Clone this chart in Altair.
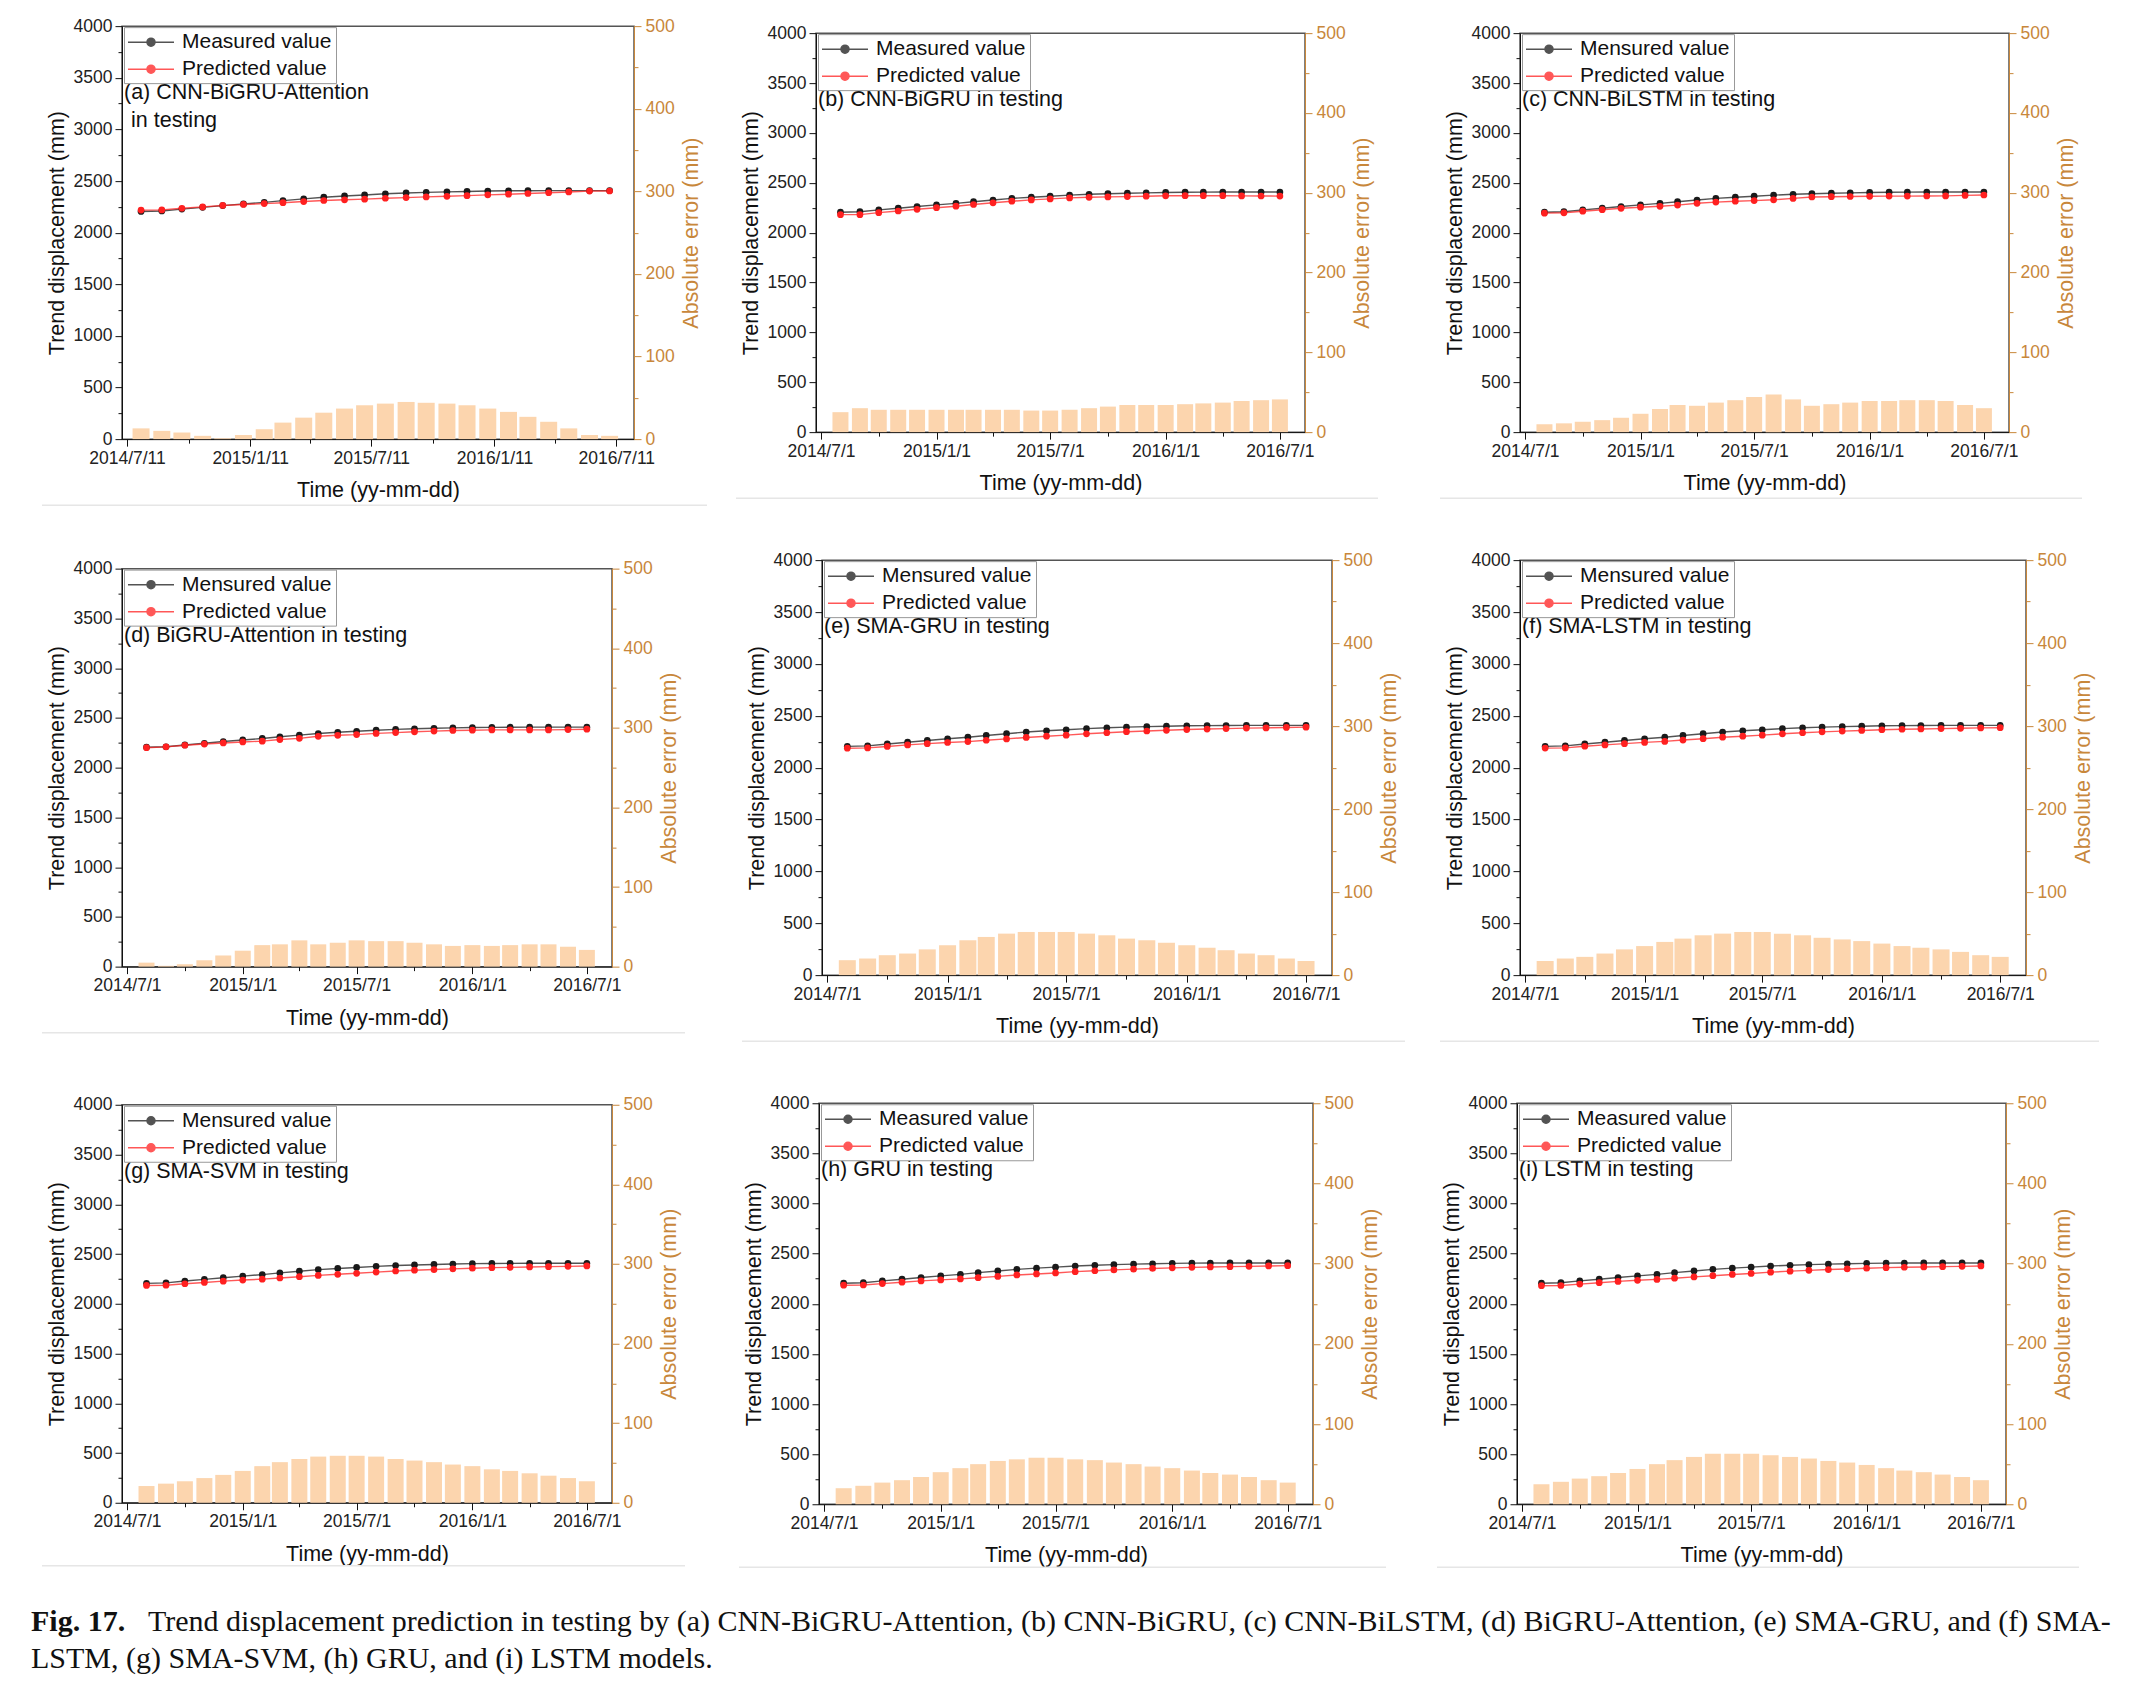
import altair as alt
import pandas as pd

FONT = "Liberation Sans"
SERIF = "Liberation Serif"
ORANGE = "#C8873B"
PEACH = "#FCD5AE"

dates = ["2014/08/01", "2014/09/01", "2014/10/01", "2014/11/01", "2014/12/01",
         "2015/01/01", "2015/02/01", "2015/03/01", "2015/04/01", "2015/05/01", "2015/06/01",
         "2015/07/01", "2015/08/01", "2015/09/01", "2015/10/01", "2015/11/01", "2015/12/01",
         "2016/01/01", "2016/02/01", "2016/03/01", "2016/04/01", "2016/05/01", "2016/06/01",
         "2016/07/01"]

measured = [2205, 2210, 2228, 2245, 2262, 2278, 2293, 2310, 2327, 2343, 2355, 2365,
            2376, 2384, 2390, 2395, 2399, 2403, 2405, 2406, 2407, 2407, 2407, 2407]

pred_a = [2218, 2220, 2236, 2249, 2263, 2273, 2281, 2290, 2301, 2311, 2318, 2324,
          2333, 2339, 2346, 2352, 2358, 2366, 2372, 2379, 2386, 2394, 2402, 2403]
pred_b = [2180, 2180, 2200, 2217, 2234, 2250, 2265, 2282, 2299, 2315, 2328, 2338,
          2348, 2354, 2358, 2361, 2365, 2369, 2370, 2370, 2370, 2368, 2367, 2366]
pred_c = [2195, 2199, 2215, 2230, 2244, 2255, 2264, 2276, 2294, 2306, 2315, 2321,
          2329, 2343, 2357, 2360, 2362, 2364, 2366, 2366, 2367, 2368, 2373, 2377]
pred_d = [2200, 2209, 2225, 2237, 2248, 2258, 2266, 2282, 2294, 2315, 2325, 2332,
          2344, 2352, 2360, 2367, 2373, 2376, 2379, 2379, 2379, 2379, 2382, 2386]
pred_e = [2187, 2190, 2204, 2219, 2231, 2242, 2251, 2264, 2277, 2291, 2303, 2313,
          2326, 2336, 2346, 2353, 2360, 2367, 2372, 2376, 2381, 2383, 2387, 2390]
pred_f = [2188, 2190, 2206, 2219, 2231, 2243, 2253, 2266, 2279, 2293, 2303, 2313,
          2326, 2336, 2345, 2352, 2358, 2365, 2370, 2373, 2376, 2379, 2383, 2385]
pred_g = [2184, 2186, 2201, 2214, 2227, 2238, 2247, 2259, 2272, 2285, 2296, 2306,
          2318, 2329, 2337, 2344, 2351, 2357, 2363, 2366, 2370, 2373, 2376, 2380]
pred_h = [2185, 2187, 2201, 2215, 2228, 2238, 2248, 2260, 2273, 2287, 2297, 2307,
          2320, 2329, 2338, 2345, 2352, 2358, 2363, 2367, 2370, 2373, 2377, 2380]
pred_i = [2180, 2182, 2196, 2210, 2223, 2234, 2243, 2255, 2268, 2280, 2292, 2302,
          2315, 2325, 2333, 2341, 2347, 2354, 2360, 2364, 2367, 2370, 2373, 2377]

err_a = [13, 10, 8, 4, 1, 5, 12, 20, 26, 32, 37, 41, 43, 45, 44, 43, 41, 37, 33, 27, 21, 13, 5, 4]
err_b = [25, 30, 28, 28, 28, 28, 28, 28, 28, 28, 27, 27, 28, 30, 32, 34, 34, 34, 35, 36, 37, 39, 40, 41]
err_c = [10, 11, 13, 15, 18, 23, 29, 34, 33, 37, 40, 44, 47, 41, 33, 35, 37, 39, 39, 40, 40, 39, 34, 30]
err_d = [5, 1, 3, 8, 14, 20, 27, 28, 33, 28, 30, 33, 32, 32, 30, 28, 26, 27, 26, 27, 28, 28, 25, 21]
err_e = [18, 20, 24, 26, 31, 36, 42, 46, 50, 52, 52, 52, 50, 48, 44, 42, 39, 36, 33, 30, 26, 24, 20, 17]
err_f = [17, 20, 22, 26, 31, 35, 40, 44, 48, 50, 52, 52, 50, 48, 45, 43, 41, 38, 35, 33, 31, 28, 24, 22]
err_g = [21, 24, 27, 31, 35, 40, 46, 51, 55, 58, 59, 59, 58, 55, 53, 51, 48, 46, 42, 40, 37, 34, 31, 27]
err_h = [20, 23, 27, 30, 34, 40, 45, 50, 54, 56, 58, 58, 56, 55, 52, 50, 47, 45, 42, 39, 37, 34, 30, 27]
err_i = [25, 28, 32, 35, 39, 44, 50, 55, 59, 63, 63, 63, 61, 59, 57, 54, 52, 49, 45, 42, 40, 37, 34, 30]

meas_label_1 = "Measured value"
meas_label_2 = "Mensured value"
pred_label = "Predicted value"

panel_titles = {
    "a": ["(a) CNN-BiGRU-Attention", "in testing"],
    "b": ["(b) CNN-BiGRU in testing"],
    "c": ["(c) CNN-BiLSTM in testing"],
    "d": ["(d) BiGRU-Attention in testing"],
    "e": ["(e) SMA-GRU in testing"],
    "f": ["(f) SMA-LSTM in testing"],
    "g": ["(g) SMA-SVM in testing"],
    "h": ["(h) GRU in testing"],
    "i": ["(i) LSTM in testing"],
}

caption_bold = "Fig. 17."
caption_line1 = ("Trend displacement prediction in testing by (a) CNN-BiGRU-Attention, (b) CNN-BiGRU, "
                 "(c) CNN-BiLSTM, (d) BiGRU-Attention, (e) SMA-GRU, and (f) SMA-")
caption_line2 = "LSTM, (g) SMA-SVM, (h) GRU, and (i) LSTM models."

LEG_PATH = "M-1.1,0L3.5,0M0.8,0A0.4,0.4,0,1,1,1.6,0A0.4,0.4,0,1,1,0.8,0Z"

TICK_FS = 17.5
TITLE_FS = 21.5
LABEL_FS = 21.5
LEGEND_FS = 21


def dt(y, m, d):
    return alt.DateTime(year=y, month=m, date=d)


def text_layer(txt, x, y, size=LABEL_FS, font=FONT, weight="normal"):
    return alt.Chart(pd.DataFrame({"t": [txt]})).mark_text(
        align="left", baseline="middle", fontSize=size, font=font, fontWeight=weight, color="#111"
    ).encode(x=alt.value(x), y=alt.value(y), text="t:N")


def panel(key, meas_label, pred, err, width, height, box, sep_y=66, day=1, end=(2016, 8, 2)):
    # box = (left, right, top, bottom) extents of the panel cell around the plot area
    bl, br, bt, bb = box
    df_lines = pd.DataFrame({
        "date": dates + dates,
        "value": measured + pred,
        "series": [meas_label] * len(dates) + [pred_label] * len(dates),
    })
    df_err = pd.DataFrame({"date": dates, "err": err})

    tick_vals = []
    for yy, mm in [(2014, 7), (2014, 10), (2015, 1), (2015, 4), (2015, 7),
                   (2015, 10), (2016, 1), (2016, 4), (2016, 7)]:
        tick_vals.append(dt(yy, mm, day))

    x_enc = alt.X(
        "date:T",
        scale=alt.Scale(domain=[dt(2014, 7, day), dt(*end)]),
        axis=alt.Axis(
            title="Time (yy-mm-dd)",
            values=tick_vals,
            labelExpr="month(datum.value) % 6 == 0 ? timeFormat(datum.value, '%Y') + '/' + (month(datum.value) + 1) + '/' + date(datum.value) : ''",
            tickSize={"condition": {"test": "month(datum.value) % 6 == 0", "value": 7}, "value": 4},
            labelFlush=False,
            labelOverlap=False,
            grid=False,
            domainColor="#111",
            tickColor="#111",
            labelFontSize=TICK_FS,
            labelColor="#222",
            titleFontSize=TITLE_FS,
            titleFontWeight="normal",
            titleColor="#111",
            labelPadding=3,
            titlePadding=13,
        ),
    )

    bw = round(width / 762 * 30.4 * 0.82)

    bars = alt.Chart(df_err).mark_bar(color=PEACH, width=bw).encode(
        x=x_enc,
        y=alt.Y(
            "err:Q",
            scale=alt.Scale(domain=[0, 500], nice=False),
            axis=alt.Axis(
                orient="right",
                title="Absolute error (mm)",
                values=list(range(0, 501, 50)),
                labelExpr="datum.value % 100 == 0 ? datum.label : ''",
                tickSize={"condition": {"test": "datum.value % 100 == 0", "value": 7}, "value": 4},
                format="d",
                grid=False,
                domainColor=ORANGE,
                tickColor=ORANGE,
                labelColor=ORANGE,
                titleColor=ORANGE,
                labelFontSize=TICK_FS,
                titleFontSize=TITLE_FS,
                titleFontWeight="normal",
                titleAngle=270,
                titleBaseline="top",
                labelPadding=4,
                titlePadding=6,
            ),
        ),
    )

    lines = alt.Chart(df_lines).mark_line(
        strokeWidth=1.4,
        opacity=0.75,
        point=alt.OverlayMarkDef(filled=True, size=45, opacity=1),
    ).encode(
        x=x_enc,
        y=alt.Y(
            "value:Q",
            scale=alt.Scale(domain=[0, 4000], nice=False),
            axis=alt.Axis(
                orient="left",
                title="Trend displacement (mm)",
                values=list(range(0, 4001, 250)),
                labelExpr="datum.value % 500 == 0 ? datum.label : ''",
                tickSize={"condition": {"test": "datum.value % 500 == 0", "value": 7}, "value": 4},
                format="d",
                grid=False,
                domainColor="#111",
                tickColor="#111",
                labelColor="#222",
                titleColor="#111",
                labelFontSize=TICK_FS,
                titleFontSize=TITLE_FS,
                titleFontWeight="normal",
                labelPadding=3,
                titlePadding=5,
            ),
        ),
        color=alt.Color(
            "series:N",
            scale=alt.Scale(domain=[meas_label, pred_label], range=["#1a1a1a", "#ff2020"]),
            legend=alt.Legend(
                title=None,
                orient="none",
                legendX=2,
                legendY=1,
                symbolType=LEG_PATH,
                symbolSize=400,
                symbolStrokeWidth=1.5,
                labelFontSize=LEGEND_FS,
                labelFont=FONT,
                labelColor="#111",
                labelOffset=32,
                labelLimit=400,
                padding=4,
                rowPadding=6,
                strokeColor="#999999",
                fillColor="white",
            ),
        ),
    )

    layers = [bars, lines]
    tl = panel_titles[key]
    layers.append(text_layer(tl[0], 2, 67))
    if len(tl) > 1:
        layers.append(text_layer(tl[1], 9, 95))

    sep = alt.Chart(pd.DataFrame({"s": [0]})).mark_rule(color="#e6e6e6", strokeWidth=1.5).encode(
        x=alt.value(-80), x2=alt.value(width + 73), y=alt.value(height + sep_y)
    )
    layers.append(sep)

    # invisible frame that fixes the size of the panel cell
    frame_h = alt.Chart(pd.DataFrame({"s": [0]})).mark_rule(opacity=0, strokeWidth=0.01).encode(
        x=alt.value(-bl), x2=alt.value(width + br), y=alt.value(height / 2)
    )
    frame_v = alt.Chart(pd.DataFrame({"s": [0]})).mark_rule(opacity=0, strokeWidth=0.01).encode(
        x=alt.value(width / 2), y=alt.value(-bt), y2=alt.value(height + bb)
    )
    layers.extend([frame_h, frame_v])

    return alt.layer(*layers).resolve_scale(y="independent").properties(width=width, height=height)


pa = panel("a", meas_label_1, pred_a, err_a, 512, 413, (91, 96, 12, 70), day=11, end=(2016, 7, 30))
pb = panel("b", meas_label_1, pred_b, err_b, 489, 399, (84, 129, 12, 70))
pc = panel("c", meas_label_2, pred_c, err_c, 489, 399, (84, 80, 12, 70))
pd_ = panel("d", meas_label_2, pred_d, err_d, 490, 398, (88, 124, 12, 77))
pe = panel("e", meas_label_2, pred_e, err_e, 510, 415, (84, 102, 12, 77))
pf = panel("f", meas_label_2, pred_f, err_f, 506, 415, (84, 80, 12, 77))
pg = panel("g", meas_label_2, pred_g, err_g, 490, 398, (88, 121, 12, 60), sep_y=63)
ph = panel("h", meas_label_1, pred_h, err_h, 494, 401, (84, 118, 12, 60), sep_y=63)
pi = panel("i", meas_label_1, pred_i, err_i, 489, 401, (84, 80, 12, 60), sep_y=63)


def row(charts):
    return alt.hconcat(*charts, spacing=0, center=True).resolve_scale(
        x="independent", y="independent", color="independent"
    ).resolve_legend(color="independent")


caption = alt.layer(
    text_layer(caption_bold, -91, 15, size=30, font=SERIF, weight="bold"),
    text_layer(caption_line1, 26, 15, size=30, font=SERIF),
    text_layer(caption_line2, -91, 52, size=30, font=SERIF),
).properties(width=10, height=60, view=alt.ViewBackground(stroke="transparent"))

chart = alt.vconcat(
    row([pa, pb, pc]), row([pd_, pe, pf]), row([pg, ph, pi]), caption, spacing=37
).resolve_scale(
    x="independent", y="independent", color="independent"
).resolve_legend(color="independent").properties(
    padding={"left": 22, "top": 5, "right": 5, "bottom": 5}
).configure(
    font=FONT,
    background="white",
).configure_view(
    stroke="#555555", strokeWidth=1.5
)

chart.save("out.html", embed_options={"renderer": "svg", "actions": False})
